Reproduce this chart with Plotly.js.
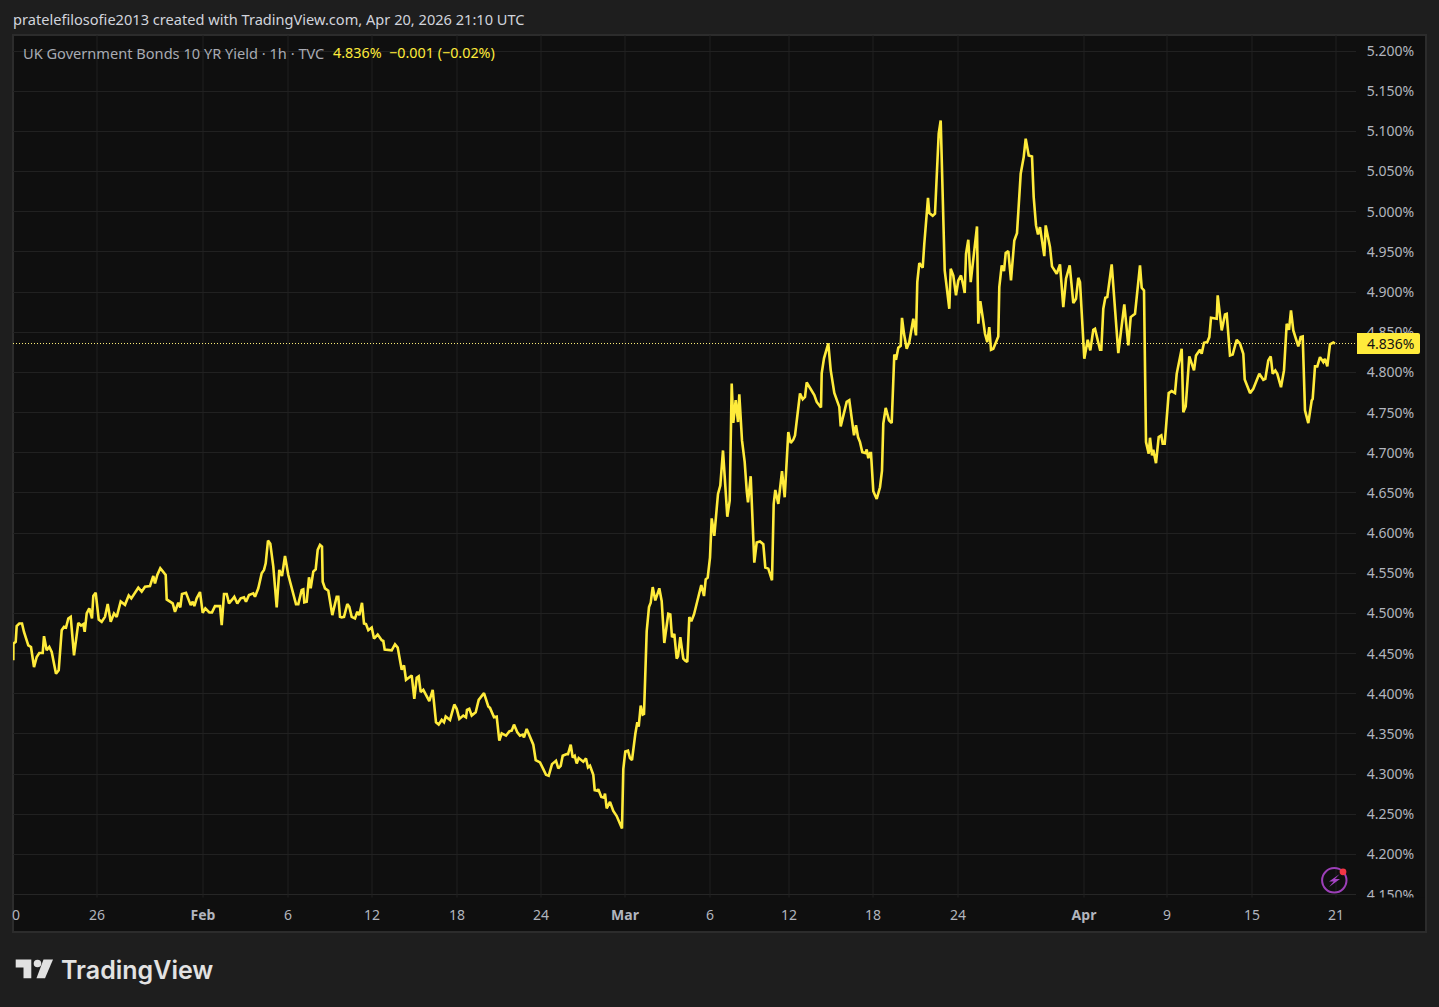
<!DOCTYPE html>
<html><head><meta charset="utf-8">
<script src="https://cdn.plot.ly/plotly-3.0.1.min.js"></script>
<style>html,body{margin:0;padding:0;background:#1e1e1e;overflow:hidden}#c{width:1439px;height:1007px}</style>
</head><body><div id="c"></div>
<script>
var barPos=[0.3,0.4,2.7,3.7,6.3,9,11,13.7,15.3,18,21,23.7,26.3,29.7,31,33.7,36.3,38.7,40.3,43,45.7,48.7,51,53,55.3,57.7,61,63,65.3,68,70.3,71.7,73.7,76.3,79,80.3,82.7,85.7,88.7,92,94.7,97.7,101,103.7,107.7,112,115.7,118.3,121.3,125.3,128.7,132,137,140.3,142,144.3,147.3,152.7,153.7,157,159.7,162,165.3,167.3,169,173,177.7,179.7,181.3,183.7,187,189.7,192.3,196.3,199,202,207,208.7,211,213.7,216,219.3,221.3,224.3,227.7,231,233,236,240.3,242,245.3,248.7,251,252.7,255,257.3,260.3,263.7,266.3,269,272,275.3,280.3,283,285.3,288.7,290.3,291.3,293.7,296,297.7,300.3,302.7,304.7,307,309,309.7,312,315.3,319.3,323.7,325.3,327,
328.7,331,334.3,336.3,338.7,342,344.3,346.3,349,351,353,355.3,358.7,361,364.7,368.7,370.3,371.7,378.7,382,384.7,388.7,391,393,398.7,401.3,403.7,405.7,407.7,410.3,416.3,419.7,423,425.7,428.7,431,432.7,437,441.3,443.7,446.3,450.3,453,454,456.3,458.7,462.7,465.7,471,475.3,477,481,483.7,486.3,488.7,493,496.3,498.7,501,504.3,507,509.7,511,513.7,518.7,520.3,522.7,527,530.3,533,535.7,539,543,545.3,547.7,549.7,553.7,555,557.7,559.7,561.7,563.7,565.7,568.7,570.3,573,575,577,580.3,581.7,584.3,585.3,588.3,591,592,593.7,597,600.3,603.7,609,610.3,612.3,615,617,619,622.3,624.3,625.7,627.7,629.7,631,
633.7,636,637.7,639.7,642.3,644.7,646.3,648.7,651.3,655.3,657.3,659,661.3,663.7,665,667.3,670.3,672.3,674.3,676.3,678.3,681,685.3,688.3,691,692.7,694.7,697,698.7,701.3,705,707.3,710,714.3,716.7,718.7,720.3,722.7,725,726.3,729,731.7,733.7,735,737.7,741.3,743.7,747,750.3,752.3,755.3,759,760.7,762.3,765.3,769,771.7,775.3,777.7,780.3,782,787,789.7,792,793.7,797,801.3,803.7,808,808.7,811,815.3,817.7,821.3,826.3,827.7,833.7,836.3,839.3,841,843,845,847,849.3,852.7,853.7,855.3,857,858,860.3,863.7,867,869,870.3,872.7,876,878.7,
880.3,881.3,883,885.3,887.7,889,891,893.7,896.3,900.3,903,904.3,906.3,909.7,911.3,915,916.3,919.7,922,924.3,925.7,927.7,931,931.7,936.3,937.7,940.3,943,945.3,948,950.3,951.7,953,955.3,957.7,961.7,964,965.3,967.3,969.7,972,974.3,976.3,978,980.3,985.3,986.3,988.7,991,992.7,995.3,998,1001.3,1004,1007.7,1010.7,1012.7,1015.7,1019,1020.7,1023,1025,1027,1031.3,1032.7,1037,1039,1043.7,1047,1050.3,1053,1056.7,1060.3,1063,1065.3,1067,1071.3,1074.7,1077.3,1080.3,1082,1087,1088.3,1090.3,1092.3,1094.3,1098.7,1105.3,1111.3,1115.3,1117.7,1122,1127,
1128.7,1131,1133,1135.7,1137,1139,1140.3,1141.7,1143,1145.7,1148.3,1149.7,1151.7,1155.7,1158.7,1162,1163.7,1168.7,1170.3,1172.7,1176.3,1181,1183,1187,1188.7,1191,1194.3,1196.3,1198,1203.7,1204.7,1208.7,1212,1213.7,1217,1219.7,1223.7,1227,1230.3,1231.7,1237,1240.3,1246.3,1250.3,1252.3,1255.3,1257.7,1259.7,1262.3,1264.3,1268,1271,1273.7,1276,1278,1280.3,1285.3,1287.7,1289.7,1292,1295.3,1298.7,1299.7,1302,1304.3,1307,1310.3,1312,1314.3,1317,1320.3,1322];
var yieldPct=[4.4417,4.4625,4.4646,4.4842,4.4875,4.4875,4.477,4.4646,4.4604,4.4583,4.4333,4.4458,4.4508,4.4508,4.4717,4.4542,4.4583,4.4521,4.4417,4.425,4.4292,4.4792,4.4833,4.4825,4.4938,4.4958,4.4479,4.4646,4.4883,4.485,4.4867,4.4771,4.5,4.5063,4.4938,4.5217,4.5258,4.4925,4.4896,4.4958,4.5117,4.4896,4.5,4.4958,4.515,4.5108,4.5225,4.5188,4.525,4.5321,4.5271,4.5333,4.5342,4.5467,4.5375,4.5479,4.5563,4.5479,4.5175,4.5146,4.5125,4.5021,4.5133,4.5075,4.5242,4.5258,4.5104,4.5146,4.5092,4.5188,4.5267,4.5008,4.5063,4.5013,4.5013,4.5092,4.5092,4.4854,4.5242,4.5242,4.5125,4.5175,4.5208,4.5125,4.5188,4.52,4.5146,4.5229,4.525,4.5208,4.5313,4.55,4.5542,4.5625,4.5908,4.5867,4.5583,4.5075,4.5542,4.5467,4.5717,4.5479,4.525,4.5117,4.5117,4.5292,4.53,4.5138,4.5146,4.545,4.5313,4.5521,4.555,4.5792,4.5854,4.5833,4.5396,4.5313,4.5283,4.4979,4.5208,4.5208,4.4958,
4.495,4.4958,4.5117,4.5083,4.4958,4.4938,4.5021,4.4979,4.5133,4.4875,4.4867,4.4792,4.4825,4.4688,4.4738,4.4667,4.4658,4.455,4.4542,4.4617,4.4575,4.43,4.4354,4.4175,4.4229,4.3938,4.42,4.4217,4.4021,4.405,4.3908,4.405,4.3646,4.3617,4.3675,4.3646,4.3717,4.3675,4.3867,4.3813,4.3688,4.3729,4.3708,4.38,4.3813,4.3729,4.3771,4.3925,4.4008,4.3842,4.3825,4.3708,4.3717,4.3417,4.3508,4.3479,4.3533,4.3542,4.3617,4.3521,4.3479,4.3492,4.3458,4.3563,4.3396,4.3367,4.3175,4.3146,4.3063,4.2992,4.2979,4.3125,4.3167,4.3071,4.3104,4.3229,4.325,4.325,4.3367,4.3208,4.3229,4.3133,4.32,4.3175,4.3154,4.3196,4.3083,4.3104,4.2992,4.28,4.2792,4.2813,4.2717,4.2708,4.2758,4.2575,4.2654,4.2542,4.2479,4.2325,4.3063,4.3283,4.3292,4.32,4.3175,4.35,4.3646,4.3592,4.3854,4.3742,4.375,
4.4779,4.5079,4.5133,4.5329,4.5163,4.5258,4.5313,4.5154,4.4633,4.4996,4.4988,4.4704,4.4746,4.4438,4.4467,4.4704,4.4438,4.4413,4.4396,4.4954,4.4904,4.4988,4.5196,4.5354,4.5217,4.5425,4.5446,4.5696,4.6183,4.5967,4.6488,4.6592,4.7029,4.6204,4.6404,4.7863,4.7371,4.7654,4.7383,4.7729,4.7154,4.6883,4.6529,4.6383,4.6708,4.5633,4.5883,4.5896,4.5863,4.5571,4.5558,4.5413,4.6363,4.6538,4.6363,4.6771,4.6446,4.7258,4.7121,4.7163,4.7217,4.7738,4.7667,4.7696,4.7875,4.7813,4.7717,4.7633,4.7563,4.7988,4.8175,4.8363,4.8029,4.7746,4.7571,4.7329,4.7633,4.7654,4.7329,4.7217,4.7342,4.7196,4.7133,4.7008,4.6996,4.7042,4.6933,4.6996,4.6996,4.6521,4.6425,4.6571,4.6779,4.7363,4.7558,4.7404,4.7371,
4.79,4.8224,4.8158,4.8307,4.8332,4.868,4.8481,4.8295,4.8378,4.8668,4.8461,4.9124,4.9361,4.9303,4.9602,5.0174,4.9983,4.995,4.9975,5.0598,5.0971,5.1137,4.9602,4.927,4.8793,4.929,4.9207,4.8959,4.9145,4.9207,4.9083,4.8988,4.9477,4.9651,4.9124,4.9519,4.9817,4.8606,4.8888,4.8689,4.8481,4.8378,4.8564,4.8282,4.8295,4.8448,4.9062,4.9332,4.9261,4.9486,4.951,4.9145,4.9643,4.9734,5.0473,5.068,5.0909,5.0701,5.0689,5.0183,4.983,4.9718,4.9809,4.9448,4.983,4.956,4.932,4.9228,4.9344,4.8813,4.9166,4.9332,4.8863,4.8917,4.9178,4.9124,4.817,4.8407,4.8274,4.8531,4.8544,4.8282,4.8282,4.8793,4.893,4.8938,4.9344,4.8241,4.8846,4.8336,4.8689,4.873,4.9332,
4.9054,4.9021,4.7133,4.6988,4.7187,4.6967,4.7037,4.6967,4.6871,4.7195,4.7216,4.7112,4.7112,4.7743,4.7768,4.7743,4.7983,4.8295,4.7506,4.7577,4.8199,4.8025,4.8212,4.8282,4.8232,4.8369,4.8378,4.844,4.868,4.8668,4.8959,4.8523,4.8722,4.873,4.8212,4.8224,4.8407,4.8357,4.8232,4.7913,4.7743,4.7797,4.7983,4.7909,4.7921,4.8149,4.8199,4.7983,4.8025,4.7983,4.7817,4.8025,4.8606,4.8531,4.8772,4.8523,4.8324,4.844,4.8448,4.7527,4.7369,4.7651,4.7672,4.8075,4.8075,4.8191,4.8129,4.817,4.8075,4.8349,4.8373,4.836];
var lastPrice=4.836;
var timeTickVals=[3,84,190,275,359,444,528,612,697,776,860,945,1071,1154,1239,1323];
var timeTickText=['0','26','<b>Feb</b>','6','12','18','24','<b>Mar</b>','6','12','18','24','<b>Apr</b>','9','15','21'];
var gridVals=[84,190,275,359,444,528,612,697,776,860,945,1071,1154,1239,1323];
var priceTicks=[4.15,4.2,4.25,4.3,4.35,4.4,4.45,4.5,4.55,4.6,4.65,4.7,4.75,4.8,4.85,4.9,4.95,5.0,5.05,5.1,5.15,5.2];
var titleText='pratelefilosofie2013 created with TradingView.com, Apr 20, 2026 21:10 UTC';
var legendName='UK Government Bonds 10 YR Yield · 1h · TVC';
var legendValue='4.836%  −0.001 (−0.02%)';
var brand='TradingView';

var FONT='"Noto Sans", sans-serif', W=1439,H=1007,L=13,T=35,R=1356,B=895;
var YEL='#ffeb3b',GRID='#212121';
function px(x){return (x-L)/(R-L);}
function py(y){return (B-y)/(B-T);}
function poly(pts){return 'M'+pts.map(function(p){return px(p[0])+','+py(p[1]);}).join('L')+'Z';}
function ellipse(cx,cy,r,extra){return Object.assign({type:'circle',xref:'paper',yref:'paper',x0:px(cx-r),x1:px(cx+r),y0:py(cy+r),y1:py(cy-r),layer:'above'},extra);}
function ann(x,y,text,size,color,extra){return Object.assign({xref:'paper',yref:'paper',x:px(x),y:py(y),text:text,showarrow:false,xanchor:'left',yanchor:'middle',font:{family:FONT,size:size,color:color},borderpad:0,borderwidth:0},extra||{});}

var shapes=[
 {type:'rect',xref:'paper',yref:'paper',x0:px(13),x1:px(1426),y0:py(932),y1:py(35),fillcolor:'#0f0f0f',line:{color:'#2c2c2c',width:2},layer:'below'},
 {type:'line',xref:'paper',yref:'paper',x0:0,x1:1,y0:py(894.5),y1:py(894.5),line:{color:'#262626',width:1},layer:'below'},
 {type:'path',xref:'paper',yref:'paper',path:poly([[15.7,959.5],[31.3,959.5],[31.3,978.3],[23.5,978.3],[23.5,967.5],[15.7,967.5]]),fillcolor:'#e2e2e2',line:{width:0},layer:'above'},
 ellipse(37.5,963.5,3.8,{fillcolor:'#e2e2e2',line:{width:0}}),
 {type:'path',xref:'paper',yref:'paper',path:poly([[43.5,959.5],[53,959.5],[45,978.3],[36.5,978.3]]),fillcolor:'#e2e2e2',line:{width:0},layer:'above'},
 ellipse(1334.3,880.3,12.2,{fillcolor:'rgba(0,0,0,0)',line:{color:'#9c3fb8',width:2}}),
 {type:'path',xref:'paper',yref:'paper',path:poly([[1339.7,874],[1329,881.5],[1333.7,881.5],[1329,887],[1340,879],[1335,879]]),fillcolor:'#a544c4',line:{width:0},layer:'above'},
 ellipse(1343,871.8,3.4,{fillcolor:'#f23645',line:{width:0}}),
 {type:'path',xref:'paper',yref:'paper',path:'M'+px(1357)+','+py(333)+'L'+px(1418)+','+py(333)+'Q'+px(1420)+','+py(333)+' '+px(1420)+','+py(335)+'L'+px(1420)+','+py(352)+'Q'+px(1420)+','+py(354)+' '+px(1418)+','+py(354)+'L'+px(1357)+','+py(354)+'Z',fillcolor:YEL,line:{width:0},layer:'above'}
];
var annotations=[
 ann(13,19.2,titleText,14.6,'#d1d4dc'),
 ann(23,53,legendName,14.6,'#a8abb3'),
 ann(333,53,legendValue,14.35,YEL),
 ann(1367,343.5,'4.836%',14,'#131313'),
 ann(61,969.5,brand,25,'#e2e2e2',{font:{family:'Inter, sans-serif',size:25,color:'#e2e2e2',weight:600}})
];
var traces=[
 {type:'scatter',mode:'lines',x:[0,1343],y:[lastPrice,lastPrice],line:{color:'#fff07a',width:1,dash:'1px,2px'},hoverinfo:'skip'},
 {type:'scatter',mode:'lines',x:barPos,y:yieldPct,line:{color:YEL,width:2.6},hoverinfo:'skip'}
];
var layout={width:W,height:H,margin:{l:L,t:T,r:W-R,b:H-B,pad:0},paper_bgcolor:'#1e1e1e',plot_bgcolor:'#0f0f0f',showlegend:false,
 xaxis:{range:[0,1343],tickmode:'array',tickvals:timeTickVals,ticktext:timeTickText,showgrid:false,zeroline:false,showline:false,ticks:'outside',ticklen:7,tickcolor:'rgba(0,0,0,0)',tickfont:{family:FONT,size:14,color:'#b2b5be'},automargin:false},
 yaxis:{side:'right',range:[4.1496,5.22],tickmode:'array',tickvals:priceTicks,ticktext:priceTicks.map(function(v){return v.toFixed(3)+'%';}),showgrid:true,gridcolor:GRID,gridwidth:1,zeroline:false,showline:false,ticks:'outside',ticklen:7,tickcolor:'rgba(0,0,0,0)',tickfont:{family:FONT,size:14,color:'#b2b5be'},automargin:false},
 shapes:shapes.concat(gridVals.map(function(v){return {type:'line',xref:'x',yref:'paper',x0:v,x1:v,y0:-0.003,y1:1,line:{color:GRID,width:1},layer:'below'};})),
 annotations:annotations};
layout.shapes.push({type:'rect',xref:'paper',yref:'paper',x0:px(1357),x1:px(1425),y0:py(931),y1:py(897.5),fillcolor:'#0f0f0f',line:{width:0},layer:'above'});
Plotly.newPlot('c',traces,layout,{staticPlot:true,displayModeBar:false});
</script></body></html>
